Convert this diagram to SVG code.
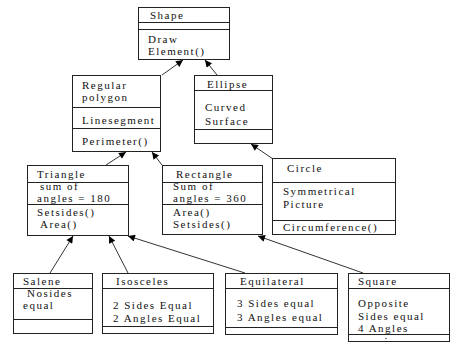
<svg xmlns="http://www.w3.org/2000/svg" width="459" height="345" viewBox="0 0 459 345">
<style>
.box{fill:#fff;stroke:#222;stroke-width:1}
.div{stroke:#222;stroke-width:1}
text{font-family:"Liberation Serif","Times New Roman",serif;font-size:11px;letter-spacing:1.5px;fill:#111}
.c{stroke:#333;stroke-width:1;fill:none;marker-end:url(#ah)}
</style>
<defs>
<marker id="ah" viewBox="0 0 10 10" refX="10" refY="5" markerWidth="8" markerHeight="7" markerUnits="userSpaceOnUse" orient="auto">
<path d="M0,0 L10,5 L0,10 z" fill="#000"/>
</marker>
</defs>
<rect width="459" height="345" fill="#fff"/>
<g id="connectors">
<line class="c" x1="162" y1="75" x2="183" y2="60"/>
<line class="c" x1="217" y1="75" x2="205" y2="60"/>
<line class="c" x1="273" y1="159" x2="251" y2="144"/>
<line class="c" x1="106" y1="165" x2="126" y2="152"/>
<line class="c" x1="162" y1="165" x2="152" y2="152"/>
<line class="c" x1="50" y1="273" x2="73" y2="236"/>
<line class="c" x1="128" y1="273" x2="109" y2="236"/>
<line class="c" x1="245" y1="273" x2="128" y2="236"/>
<line class="c" x1="363" y1="273" x2="258" y2="236"/>
</g>
<g id="shape">
<rect class="box" x="138.5" y="7.5" width="91" height="52"/>
<line class="div" x1="138.5" y1="22.5" x2="229.5" y2="22.5"/>
<line class="div" x1="138.5" y1="29.5" x2="229.5" y2="29.5"/>
<text x="150" y="19">Shape</text>
<text x="148" y="43">Draw</text>
<text x="148" y="55">Element()</text>
</g>
<g id="regular-polygon">
<rect class="box" x="72.5" y="75.5" width="88" height="76"/>
<line class="div" x1="72.5" y1="107.5" x2="160.5" y2="107.5"/>
<line class="div" x1="72.5" y1="128.5" x2="160.5" y2="128.5"/>
<text x="82" y="89">Regular</text>
<text x="82" y="101">polygon</text>
<text x="82" y="124">Linesegment</text>
<text x="82" y="145">Perimeter()</text>
</g>
<g id="ellipse">
<rect class="box" x="194.5" y="75.5" width="78" height="68"/>
<line class="div" x1="194.5" y1="90.5" x2="272.5" y2="90.5"/>
<line class="div" x1="194.5" y1="129.5" x2="272.5" y2="129.5"/>
<text x="207" y="88">Ellipse</text>
<text x="205" y="111">Curved</text>
<text x="205" y="125">Surface</text>
</g>
<g id="circle">
<rect class="box" x="272.5" y="158.5" width="123" height="76"/>
<line class="div" x1="272.5" y1="182.5" x2="395.5" y2="182.5"/>
<line class="div" x1="272.5" y1="220.5" x2="395.5" y2="220.5"/>
<text x="287" y="172">Circle</text>
<text x="283" y="195">Symmetrical</text>
<text x="283" y="208">Picture</text>
<text x="283" y="231">Circumference()</text>
</g>
<g id="triangle">
<rect class="box" x="27.5" y="165.5" width="101" height="70"/>
<line class="div" x1="27.5" y1="182.5" x2="128.5" y2="182.5"/>
<line class="div" x1="27.5" y1="204.5" x2="128.5" y2="204.5"/>
<text x="37" y="178">Triangle</text>
<text x="40" y="190">sum of</text>
<text x="37" y="202">angles = 180</text>
<text x="37" y="216">Setsides()</text>
<text x="40" y="228">Area()</text>
</g>
<g id="rectangle">
<rect class="box" x="162.5" y="165.5" width="100" height="69"/>
<line class="div" x1="162.5" y1="182.5" x2="262.5" y2="182.5"/>
<line class="div" x1="162.5" y1="204.5" x2="262.5" y2="204.5"/>
<text x="176" y="178">Rectangle</text>
<text x="173" y="190">Sum of</text>
<text x="173" y="202">angles = 360</text>
<text x="173" y="216">Area()</text>
<text x="173" y="228">Setsides()</text>
</g>
<g id="salene">
<rect class="box" x="13.5" y="273.5" width="79" height="60"/>
<line class="div" x1="13.5" y1="288.5" x2="92.5" y2="288.5"/>
<line class="div" x1="13.5" y1="319.5" x2="92.5" y2="319.5"/>
<text x="23" y="285">Salene</text>
<text x="27" y="297">Nosides</text>
<text x="23" y="309">equal</text>
</g>
<g id="isosceles">
<rect class="box" x="102.5" y="273.5" width="111" height="60"/>
<line class="div" x1="102.5" y1="288.5" x2="213.5" y2="288.5"/>
<line class="div" x1="102.5" y1="326.5" x2="213.5" y2="326.5"/>
<text x="116" y="285">Isosceles</text>
<text x="113" y="309">2 Sides Equal</text>
<text x="113" y="322">2 Angles Equal</text>
</g>
<g id="equilateral">
<rect class="box" x="225.5" y="273.5" width="112" height="61"/>
<line class="div" x1="225.5" y1="288.5" x2="337.5" y2="288.5"/>
<line class="div" x1="225.5" y1="327.5" x2="337.5" y2="327.5"/>
<text x="240" y="285">Equilateral</text>
<text x="237" y="307">3 Sides equal</text>
<text x="237" y="321">3 Angles equal</text>
</g>
<g id="square">
<rect class="box" x="348.5" y="273.5" width="101" height="68"/>
<line class="div" x1="348.5" y1="288.5" x2="449.5" y2="288.5"/>
<line class="div" x1="348.5" y1="334.5" x2="449.5" y2="334.5"/>
<text x="358" y="285">Square</text>
<text x="358" y="307">Opposite</text>
<text x="358" y="320">Sides equal</text>
<text x="358" y="332">4 Angles</text>
<circle cx="386" cy="338.5" r="0.7" fill="#333"/>
</g>
</svg>
